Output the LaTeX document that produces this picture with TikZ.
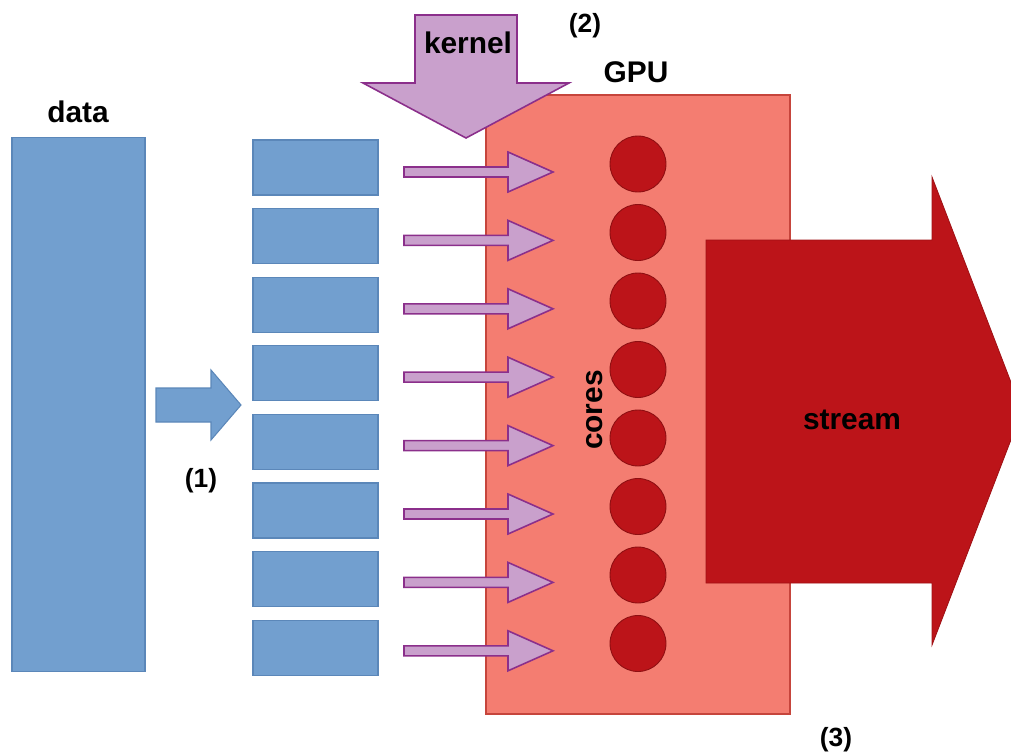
\documentclass[tikz,border=0pt]{standalone}
\usepackage{fontspec}
\setmainfont{Liberation Sans}
\usepackage{xcolor}
\definecolor{blk}{HTML}{729FCF}
\definecolor{blkline}{HTML}{5B87B9}
\definecolor{krn}{HTML}{C9A0CC}
\definecolor{krnline}{HTML}{8B2F8B}
\definecolor{gpufill}{HTML}{F47D71}
\definecolor{gpuline}{HTML}{C6453C}
\definecolor{corefill}{HTML}{BC1419}
\definecolor{coreline}{HTML}{8E0F12}
\begin{document}
\begin{tikzpicture}[x=0.02cm,y=-0.02cm,font=\fontsize{17}{20}\selectfont\bfseries,
  blkbox/.style={draw=blkline,fill=blk,line width=0.6pt,inner sep=0pt},
  krnarrow/.style={draw=krnline,fill=krn,line width=0.9pt,line join=miter},
  lbl/.style={inner sep=0pt,text=black}]
\useasboundingbox (0,0) rectangle (1011,754);
% data and the split pieces
\node[blkbox,minimum width=2.66cm,minimum height=10.7cm](data) at (78.5,404.5){};
\node[lbl](datalbl) at (78,112){data};
\foreach \i in {1,...,8}
  \node[blkbox,minimum width=2.5cm,minimum height=1.1cm](b\i) at (315.5,{167.5+68.6*(\i-1)}){};
\fill[blk,draw=blkline,line width=0.6pt] (156,388)--(211,388)--(211,370)--(241,405)--(211,440)--(211,422)--(156,422)--cycle;
\node[lbl,font=\fontsize{15}{18}\selectfont\bfseries](l1) at (201,481){(1)};
% GPU with its cores
\node[draw=gpuline,fill=gpufill,line width=0.8pt,minimum width=6.08cm,minimum height=12.38cm,inner sep=0pt](gpu) at (638,404.5){};
\node[lbl](gpulbl) at (636,72){GPU};
\foreach \i in {1,...,8}{
  \node[circle,draw=coreline,fill=corefill,line width=0.5pt,minimum size=1.12cm,inner sep=0pt](c\i) at (638,{164+68.5*(\i-1)}){};
  \pgfmathsetmacro\yy{172+68.4*(\i-1)}
  \draw[krnarrow] (404,\yy-5)--(508,\yy-5)--(508,\yy-20)--(553,\yy)--(508,\yy+20)--(508,\yy+5)--(404,\yy+5)--cycle;
}
\node[lbl,rotate=90](coreslbl) at (595,410){cores};
% kernel
\draw[krnarrow] (415,15)--(517,15)--(517,83)--(569,83)--(466,138)--(363,83)--(415,83)--cycle;
\node[lbl](krnlbl) at (468,43){kernel};
\node[lbl,font=\fontsize{15}{18}\selectfont\bfseries](l2) at (585,26){(2)};
% stream
\fill[corefill,draw=corefill!85!black,line width=0.5pt] (706,240)--(932,240)--(932,177)--(1022,411)--(932,645)--(932,583)--(706,583)--cycle;
\node[lbl](strlbl) at (852,420){stream};
\node[lbl,font=\fontsize{15}{18}\selectfont\bfseries](l3) at (836,740){(3)};
\end{tikzpicture}
\end{document}
